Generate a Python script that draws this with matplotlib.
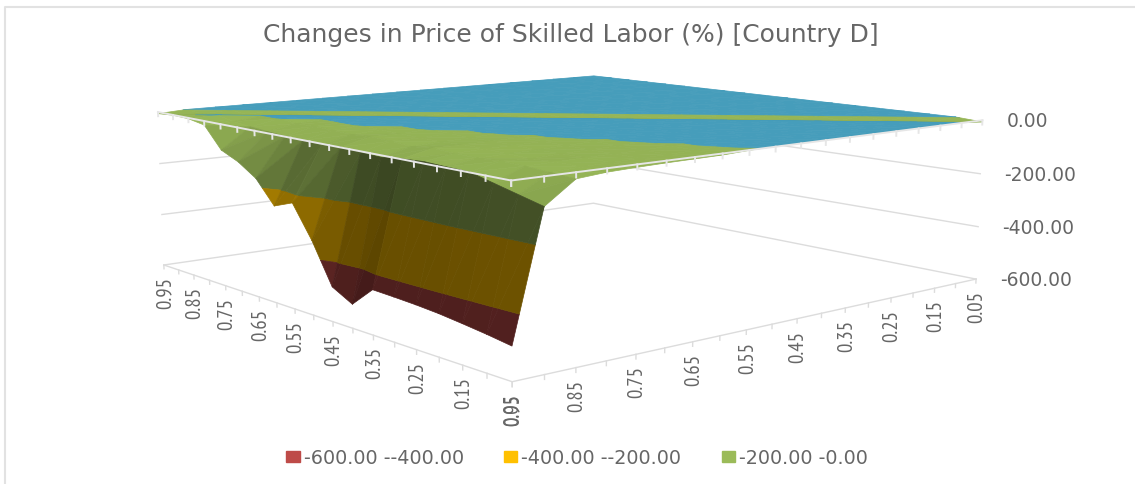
import numpy as np
import matplotlib
matplotlib.use("Agg")
import matplotlib.pyplot as plt
from matplotlib.colors import to_rgb
from matplotlib.lines import Line2D
from matplotlib.patches import Patch
from mpl_toolkits.mplot3d import proj3d
from mpl_toolkits.mplot3d.art3d import Poly3DCollection

# axis along the front left edge, then along the front right edge
u_vals = [0.05, 0.10, 0.15, 0.20, 0.25, 0.30, 0.35, 0.40, 0.45, 0.50, 0.55, 0.60, 0.65, 0.70, 0.75, 0.80, 0.85, 0.90, 0.95]
v_vals = [0.95, 0.90, 0.85, 0.80, 0.75, 0.70, 0.65, 0.60, 0.55, 0.50, 0.45, 0.40, 0.35, 0.30, 0.25, 0.20, 0.15, 0.10, 0.05]

# one row per v value, columns follow u_vals
z_v95 = [-492, -480, -470, -461, -455, -451, -448, -518, -480, -340, -226, -253, -170, -125, -95, -15, -3, -1, -6]
z_v90 = [-90, -70, -50, -30, -28, -25, -30, -38, -35, -30, -35, -32, -30, -25, -20, -12, 1, -6, 1]
z_v85 = [-20, -15, -10, -8, -12, -10, -6, -14, -8, -5, -10, -7, -5, -6, 1, 1, -6, 1, 1]
z_v80 = [-12, -10, -8, -12, -9, -6, -5, -8, -7, -5, -3, 1, 1, 1, 1, -6, 1, 1, 1]
z_v75 = [-9, -8, -6, -7, -8, -5, -4, -5, -2, 1, 1, 1, 1, 1, -6, 1, 1, 1, 1]
z_v70 = [-7, -6, -5, -5, -4, -3, -1, 1, 1, 1, 1, 1, 1, -6, 1, 1, 1, 1, 1]
z_v65 = [-6, -5, -4, -3, -1, 1, 1, 1, 1, 1, 1, 1, -6, 1, 1, 1, 1, 1, 1]
z_v60 = [-5, -3, -1, 1, 1, 1, 1, 1, 1, 1, 1, -6, 1, 1, 1, 1, 1, 1, 1]
z_v55 = [-1, 1, 1, 1, 1, 1, 1, 1, 1, 1, -6, 1, 1, 1, 1, 1, 1, 1, 1]
z_v50 = [1, 1, 1, 1, 1, 1, 1, 1, 1, -6, 1, 1, 1, 1, 1, 1, 1, 1, 1]
z_v45 = [1, 1, 1, 1, 1, 1, 1, 1, -6, 1, 1, 1, 1, 1, 1, 1, 1, 1, 1]
z_v40 = [1, 1, 1, 1, 1, 1, 1, -6, 1, 1, 1, 1, 1, 1, 1, 1, 1, 1, 1]
z_v35 = [1, 1, 1, 1, 1, 1, -6, 1, 1, 1, 1, 1, 1, 1, 1, 1, 1, 1, 1]
z_v30 = [1, 1, 1, 1, 1, -6, 1, 1, 1, 1, 1, 1, 1, 1, 1, 1, 1, 1, 1]
z_v25 = [1, 1, 1, 1, -6, 1, 1, 1, 1, 1, 1, 1, 1, 1, 1, 1, 1, 1, 1]
z_v20 = [1, 1, 1, -6, 1, 1, 1, 1, 1, 1, 1, 1, 1, 1, 1, 1, 1, 1, 1]
z_v15 = [1, 1, -6, 1, 1, 1, 1, 1, 1, 1, 1, 1, 1, 1, 1, 1, 1, 1, 1]
z_v10 = [1, -6, 1, 1, 1, 1, 1, 1, 1, 1, 1, 1, 1, 1, 1, 1, 1, 1, 1]
z_v05 = [-6, 1, 1, 1, 1, 1, 1, 1, 1, 1, 1, 1, 1, 1, 1, 1, 1, 1, 1]

z_rows = [z_v95, z_v90, z_v85, z_v80, z_v75, z_v70, z_v65, z_v60, z_v55, z_v50,
          z_v45, z_v40, z_v35, z_v30, z_v25, z_v20, z_v15, z_v10, z_v05]

band_edges = [-600, -400, -200, 0, 50]
band_colors = ["#BE4B48", "#FFC000", "#9BBB59", "#4AA5C4"]
legend_labels = ["-600.00 --400.00", "-400.00 --200.00", "-200.00 -0.00"]
z_ticks = [0, -200, -400, -600]
z_tick_labels = ["0.00", "-200.00", "-400.00", "-600.00"]
axis_labels = ["0.95", "0.85", "0.75", "0.65", "0.55", "0.45", "0.35", "0.25", "0.15", "0.05"]
title = "Changes in Price of Skilled Labor (%) [Country D]"

# camera found by fitting the box corners of the reference
ELEV, AZIM, FOCAL = 9.4684, 140.0877, 0.3959
BOX = (2.0185, 2.0422, 0.5526)
PX_PER_UNIT, MX, MY = 4386.02, -0.00018, -0.00175
CENTER_PX = (561.375, 484 - 202.25)
GRID = "#dcdcdc"
TEXT = "#666666"
NARROW = ["PT Sans Narrow", "Liberation Sans", "DejaVu Sans"]


def clip_band(tri, lo, hi):
    # cut a triangle down to the part between two heights
    poly = tri
    for level, sign in ((lo, 1), (hi, -1)):
        out = []
        for i in range(len(poly)):
            a, b = poly[i], poly[(i + 1) % len(poly)]
            da, db = sign * (a[2] - level), sign * (b[2] - level)
            if da >= 0:
                out.append(a)
            if da * db < 0:
                out.append(a + (b - a) * da / (da - db))
        poly = out
        if len(poly) < 3:
            return []
    return poly


def shade(tri):
    # normal in box proportions, lighter where the surface falls towards low u
    p = [np.array([(q[0] - 0.05) / 0.9 * BOX[0], (q[1] - 0.05) / 0.9 * BOX[1], (q[2] + 600) / 600 * BOX[2]]) for q in tri]
    n = np.cross(p[1] - p[0], p[2] - p[0])
    n = n / np.linalg.norm(n)
    if n[2] < 0:
        n = -n
    d = max(0.0, n @ np.array([-0.35, 0.0, 0.94]))
    return 0.2 + 0.8 * d


def build_polys():
    polys, colors = [], []
    z = np.array(z_rows, dtype=float)
    for r in range(len(v_vals) - 1):
        for c in range(len(u_vals) - 1):
            pa = np.array([u_vals[c], v_vals[r], z[r, c]])
            pb = np.array([u_vals[c + 1], v_vals[r], z[r, c + 1]])
            pc = np.array([u_vals[c], v_vals[r + 1], z[r + 1, c]])
            pd = np.array([u_vals[c + 1], v_vals[r + 1], z[r + 1, c + 1]])
            for tri in ([pa, pb, pc], [pb, pd, pc]):
                f = shade(tri)
                for b in range(len(band_colors)):
                    poly = clip_band(tri, band_edges[b], band_edges[b + 1])
                    if len(poly) >= 3:
                        polys.append(np.array(poly))
                        colors.append(tuple(np.array(to_rgb(band_colors[b])) * f))
    return polys, colors


def place_axes(fig, ax):
    # size the 3d axes and shift it so the box lands where it should
    W, H = fig.get_size_inches() * fig.dpi
    S = 484.0
    ax.set_position([0, 0, S / W, S / H])
    ax.apply_aspect()
    p0 = ax.transData.transform((0, 0))
    p1 = ax.transData.transform((0.01, 0))
    S = S * PX_PER_UNIT / ((p1[0] - p0[0]) / 0.01)
    ax.set_position([0, 0, S / W, S / H])
    ax.apply_aspect()
    at = ax.transData.transform((MX, MY))
    ax.set_position([(CENTER_PX[0] - at[0]) / W, (CENTER_PX[1] - at[1]) / H, S / W, S / H])
    ax.apply_aspect()


def to_pixels(ax, u, v, z):
    xs, ys, _ = proj3d.proj_transform(u, v, z, ax.get_proj())
    return ax.transData.transform((float(xs), float(ys)))


def main():
    fig = plt.figure(figsize=(11.35, 4.84), dpi=100)
    ax = fig.add_axes([0, 0, 1, 1], projection="3d", proj_type="persp", focal_length=FOCAL, computed_zorder=False)
    ax.view_init(elev=ELEV, azim=AZIM)
    ax.set_box_aspect(BOX)
    ax.set_xlim(0.05, 0.95)
    ax.set_ylim(0.05, 0.95)
    ax.set_zlim(-600, 0)
    ax.set_axis_off()
    place_axes(fig, ax)
    W, H = fig.get_size_inches() * fig.dpi

    # back wall grid
    for z in z_ticks[1:]:
        ax.plot([0.95, 0.95, 0.05], [0.95, 0.05, 0.05], [z, z, z], color=GRID, lw=1.0, zorder=1, clip_on=False)
    # floor edges with ticks
    ax.plot([0.95, 0.05, 0.05], [0.95, 0.95, 0.05], [-600, -600, -600], color=GRID, lw=1.0, zorder=1, clip_on=False)
    for t in u_vals:
        ax.plot([t, t], [0.95, 0.95], [-600, -615], color=GRID, lw=1.0, zorder=1, clip_on=False)
        ax.plot([0.05, 0.05], [t, t], [-600, -615], color=GRID, lw=1.0, zorder=1, clip_on=False)

    polys, colors = build_polys()
    surf = Poly3DCollection(polys, facecolors=colors, edgecolors=colors, linewidths=0.5, zorder=2, clip_on=False)
    ax.add_collection3d(surf)

    # top edge with its small ticks
    ax.plot([0.95, 0.05, 0.05], [0.95, 0.95, 0.05], [0, 0, 0], color="#e6e6e6", lw=1.4, zorder=3, clip_on=False)
    for t in u_vals:
        ax.plot([t, t], [0.95, 0.95], [0, -16], color="#e6e6e6", lw=1.4, zorder=3, clip_on=False)
        ax.plot([0.05, 0.05], [t, t], [0, -16], color="#e6e6e6", lw=1.4, zorder=3, clip_on=False)

    # labels sit a fixed number of pixels off the projected tick
    for lab in axis_labels:
        t = float(lab)
        for pos in ((t, 0.95, -600), (0.05, t, -600)):
            px, py = to_pixels(ax, *pos)
            fig.text((px + 1) / W, (py - 12) / H, lab, rotation=90, ha="center", va="top", fontsize=15, color=TEXT, family=NARROW)
    for z, lab in zip(z_ticks, z_tick_labels):
        px, py = to_pixels(ax, 0.05, 0.05, z)
        fig.text((px + 24) / W, (py - 1.5) / H, lab, ha="left", va="center", fontsize=13.5, color=TEXT)

    fig.text(571 / 1135, 1 - 35 / 484, title, ha="center", va="center", fontsize=18, color=TEXT)
    handles = [Patch(color=c) for c in band_colors[:3]]
    fig.legend(handles, legend_labels, ncol=3, loc="center", bbox_to_anchor=(577 / 1135, 1 - 458 / 484), frameon=False,
               fontsize=13.8, labelcolor=TEXT, handlelength=0.7, handleheight=0.55, handletextpad=0.2, columnspacing=2.1)

    # thin frame of the pasted chart, top and left only
    fig.add_artist(Line2D([5 / W, 5 / W, 1], [0, 1 - 7 / H, 1 - 7 / H], color="#e2e2e2", lw=1.5))
    fig.savefig("out.png", dpi=100)


if __name__ == "__main__":
    main()
